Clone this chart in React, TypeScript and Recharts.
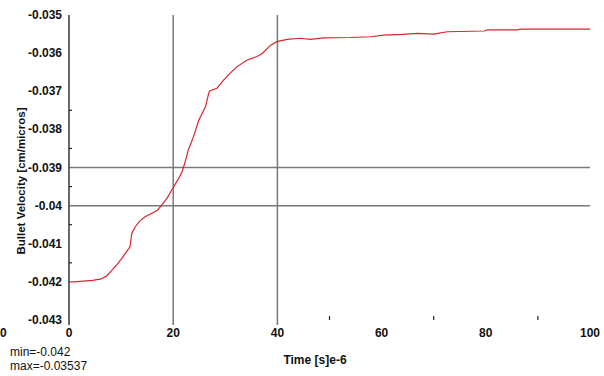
import { LineChart, Line, XAxis, YAxis, ReferenceLine } from "recharts";

// time in microseconds
const TIME = [
  0, 1, 2.7, 4.5, 6, 7.2, 8.2, 9.2, 10.1, 11.0, 11.7, 12.05, 12.7, 13.6, 14.6, 15.9, 17.0, 17.5,
  18.8, 20.06, 21.0, 21.7, 22.3, 22.9, 23.9, 24.9, 26.2, 26.8, 27.0, 28.4, 29.7, 31.0, 32.2, 34.2,
  36.1, 37.1, 38.7, 39.9, 41.9, 44.4, 46.3, 48.9, 54, 58, 60.4, 64, 66.9, 70, 72.6, 79.7, 80.3,
  86.1, 86.7, 100,
];

// bullet velocity in cm/micros
const VELOCITY = [
  -0.042, -0.042, -0.04198, -0.04196, -0.04193, -0.04185, -0.0417, -0.04155, -0.04139, -0.04122,
  -0.04108, -0.04073, -0.04056, -0.0404, -0.04029, -0.0402, -0.04012, -0.04003, -0.03981, -0.03951,
  -0.0393, -0.03911, -0.03885, -0.03854, -0.03819, -0.03776, -0.03741, -0.03706, -0.03699, -0.03692,
  -0.0367, -0.03652, -0.03636, -0.03618, -0.03609, -0.03601, -0.03579, -0.0357, -0.03564, -0.03561,
  -0.03564, -0.0356, -0.03559, -0.03557, -0.03553, -0.03551, -0.03548, -0.0355, -0.03544, -0.03542,
  -0.03539, -0.03539, -0.03537, -0.03537,
];

const X_MAJOR = [0, 20, 40, 60, 80, 100];
const X_MINOR = [50, 70, 90];
const X_EXTENDED = [0, 20, 40]; // ticks whose mark runs below the plot

const Y_MAJOR = [-0.043, -0.042, -0.041, -0.04, -0.039, -0.038, -0.037, -0.036, -0.035];
const Y_MINOR = [-0.0415, -0.0405, -0.0395, -0.0385, -0.0375];

// crosshair lines left on the plot
const CURSOR_X = [20, 40];
const CURSOR_Y = [-0.039, -0.04];

const rows = TIME.map((t, i) => ({ t, v: VELOCITY[i] }));

const FONT = "'Liberation Sans', Arial, sans-serif";
const INK = "#111";
const GRID = "#7a7a7a";

const fmtY = (v: number) => String(Number(v.toFixed(4)));

function XTick(props: any) {
  const { x, y, payload } = props;
  const v = payload.value as number;
  if (X_MINOR.includes(v)) {
    return <line x1={x} x2={x} y1={y - 4} y2={y} stroke="#222" strokeWidth={1.2} />;
  }
  return (
    <g>
      {X_EXTENDED.includes(v) ? (
        <line x1={x} x2={x} y1={y} y2={y + 5} stroke={v === 0 ? "#444" : GRID} strokeWidth={1.6} />
      ) : null}
      <text x={x} y={y + 17} textAnchor="middle" fontFamily={FONT} fontSize={12} fontWeight="bold" fill={INK}>
        {v}
      </text>
    </g>
  );
}

function YTick(props: any) {
  const { x, y, payload } = props;
  const v = payload.value as number;
  if (Y_MINOR.some((m) => Math.abs(m - v) < 1e-9)) {
    return <line x1={x + 7} x2={x + 10} y1={y} y2={y} stroke="#222" strokeWidth={1.2} />;
  }
  return (
    <text x={x} y={y} dy={4} textAnchor="end" fontFamily={FONT} fontSize={12} fontWeight="bold" fill={INK}>
      {fmtY(v)}
    </text>
  );
}

export default function App() {
  return (
    <div style={{ position: "absolute", left: 0, top: 0, width: 604, height: 376, background: "#fff" }}>
      <LineChart width={604} height={376} data={rows} margin={{ top: 15, right: 14, bottom: 0, left: 0 }}>
        <XAxis
          dataKey="t"
          type="number"
          domain={[0, 100]}
          ticks={[...X_MAJOR, ...X_MINOR].sort((a, b) => a - b)}
          tick={XTick}
          tickLine={false}
          axisLine={false}
          tickSize={0}
          tickMargin={0}
          height={56}
          interval={0}
        />
        <YAxis
          type="number"
          domain={[-0.043, -0.035]}
          ticks={[...Y_MAJOR, ...Y_MINOR].sort((a, b) => a - b)}
          tick={YTick}
          tickLine={false}
          axisLine={{ stroke: "#444", strokeWidth: 1.6 }}
          tickSize={0}
          tickMargin={7}
          width={69}
          interval={0}
          allowDataOverflow
        />
        {CURSOR_X.map((x) => (
          <ReferenceLine key={`x${x}`} x={x} stroke={GRID} strokeWidth={1.5} />
        ))}
        {CURSOR_Y.map((y) => (
          <ReferenceLine key={`y${y}`} y={y} stroke={GRID} strokeWidth={1.5} />
        ))}
        <Line
          type="linear"
          dataKey="v"
          stroke="#d8262b"
          strokeWidth={1.2}
          dot={false}
          isAnimationActive={false}
        />
        <text x={0} y={337} fontFamily={FONT} fontSize={12} fontWeight="bold" fill={INK}>
          0
        </text>
        <text
          x={21}
          y={181}
          transform="rotate(-90 21 181)"
          textAnchor="middle"
          dominantBaseline="central"
          fontFamily={FONT}
          fontSize={11.5}
          fontWeight="bold"
          fill={INK}
        >
          Bullet Velocity [cm/micros]
        </text>
        <text x={315} y={364} textAnchor="middle" fontFamily={FONT} fontSize={12} fontWeight="bold" fill={INK}>
          Time [s]e-6
        </text>
        <text x={10} y={356} fontFamily={FONT} fontSize={12} fill={INK}>
          min=-0.042
        </text>
        <text x={10} y={370} fontFamily={FONT} fontSize={12} fill={INK}>
          max=-0.03537
        </text>
      </LineChart>
    </div>
  );
}
